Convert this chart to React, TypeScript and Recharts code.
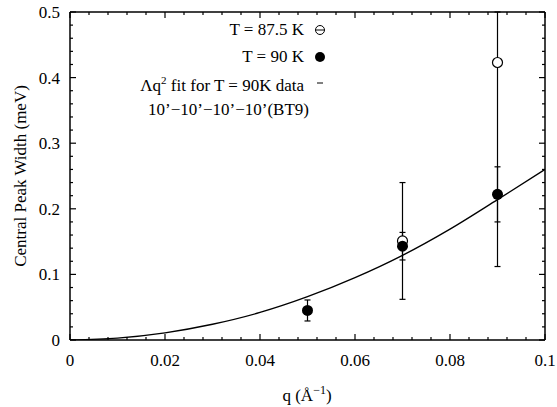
import { ComposedChart, ErrorBar, Line, Scatter, XAxis, YAxis } from "recharts";

// T = 87.5 K (open circles); last bar runs off the top of the frame
const q875 = [0.07, 0.09];
const width875 = [0.151, 0.423];
const err875 = [[0.089, 0.089], [0.311, 0.077]];

// T = 90 K (filled circles)
const q90 = [0.05, 0.07, 0.09];
const width90 = [0.045, 0.143, 0.222];
const err90 = [0.016, 0.021, 0.042];

// Aq^2 fit curve
const fitQ = [0, 0.01, 0.02, 0.03, 0.04, 0.05, 0.06, 0.07, 0.08, 0.09, 0.1];
const fitWidth = [0, 0.003, 0.011, 0.024, 0.042, 0.066, 0.095, 0.129, 0.169, 0.214, 0.26];

const xTicks = Array.from({ length: 26 }, (_, i) => Number((i * 0.004).toFixed(3)));
const yTicks = Array.from({ length: 26 }, (_, i) => Number((i * 0.02).toFixed(2)));
const xLabels = ["0", "0.02", "0.04", "0.06", "0.08", "0.1"];
const yLabels = ["0", "0.1", "0.2", "0.3", "0.4", "0.5"];

const open = q875.map((q, i) => ({ q, w: width875[i], err: err875[i] }));
const filled = q90.map((q, i) => ({ q, w: width90[i], err: err90[i] }));
const fit = fitQ.map((q, i) => ({ q, w: fitWidth[i] }));

const FONT = "'Liberation Serif', 'Times New Roman', serif";

const isMajor = (v: number, step: number) => Math.round(v / step) % 5 === 0;

const BottomTick = (p: any) => {
	const k = Math.round(p.payload.value / 0.004);
	const len = k % 5 === 0 ? 6 : 3;
	return (
		<g>
			<line x1={p.x} x2={p.x} y1={p.y} y2={p.y - len} stroke="#000" strokeWidth={1.2} />
			<text x={p.x} y={p.y + 26} textAnchor="middle" fontSize={17} fontFamily={FONT} fill="#000">
				{k % 5 === 0 ? xLabels[k / 5] : ""}
			</text>
		</g>
	);
};
const TopTick = (p: any) => (
	<line x1={p.x} x2={p.x} y1={p.y} y2={p.y + (isMajor(p.payload.value, 0.004) ? 6 : 3)} stroke="#000" strokeWidth={1.2} />
);
const LeftTick = (p: any) => {
	const k = Math.round(p.payload.value / 0.02);
	const len = k % 5 === 0 ? 6 : 3;
	return (
		<g>
			<line x1={p.x} x2={p.x + len} y1={p.y} y2={p.y} stroke="#000" strokeWidth={1.2} />
			<text x={p.x - 10} y={p.y + 6} textAnchor="end" fontSize={17} fontFamily={FONT} fill="#000">
				{k % 5 === 0 ? yLabels[k / 5] : ""}
			</text>
		</g>
	);
};
const RightTick = (p: any) => (
	<line x1={p.x} x2={p.x - (isMajor(p.payload.value, 0.02) ? 6 : 3)} y1={p.y} y2={p.y} stroke="#000" strokeWidth={1.2} />
);

const OpenDot = (p: any) => <circle cx={p.cx} cy={p.cy} r={5} fill="#fff" stroke="#000" strokeWidth={1.2} />;
const FilledDot = (p: any) => <circle cx={p.cx} cy={p.cy} r={5.5} fill="#000" />;

const row = (top: number, right = 0): any => ({
	position: "absolute",
	top,
	right,
	whiteSpace: "nowrap",
	display: "flex",
	alignItems: "center",
});

const Overlay = () => (
	<div style={{ position: "absolute", left: 0, top: 0, width: 557, height: 407, fontFamily: FONT, fontSize: 17, color: "#000", pointerEvents: "none" }}>
		<div style={{ position: "absolute", left: 0, top: 0, width: 330, height: 130 }}>
			<div style={row(20)}>
				<span>T = 87.5 K</span>
				<svg width={26} height={14}>
					<circle cx={16} cy={7} r={4.5} fill="none" stroke="#000" />
					<line x1={11.5} x2={20.5} y1={7} y2={7} stroke="#000" />
				</svg>
			</div>
			<div style={row(47)}>
				<span>T = 90 K</span>
				<svg width={26} height={14}>
					<circle cx={16} cy={7} r={5} fill="#000" />
				</svg>
			</div>
			<div style={row(74)}>
				<span>
					Λq<sup style={{ fontSize: 11 }}>2</sup> fit for T = 90K data
				</span>
				<svg width={26} height={14}>
					<line x1={13} x2={19} y1={5} y2={5} stroke="#000" />
				</svg>
			</div>
			<div style={row(100, 21)}>
				<span>10’−10’−10’−10’(BT9)</span>
			</div>
		</div>
		<div style={{ position: "absolute", left: 307, top: 380, transform: "translateX(-50%)", whiteSpace: "nowrap", lineHeight: "20px" }}>
			q (Å<sup style={{ fontSize: 12 }}>−1</sup>)
		</div>
		<div style={{ position: "absolute", left: 21, top: 176, transform: "translate(-50%, -50%) rotate(-90deg)", whiteSpace: "nowrap", lineHeight: "20px" }}>
			Central Peak Width (meV)
		</div>
	</div>
);

const App = () => (
	<div style={{ position: "absolute", left: 0, top: 0 }}>
		<ComposedChart width={557} height={407} margin={{ top: 0, right: 0, bottom: 0, left: 0 }}>
			<XAxis xAxisId="bottom" dataKey="q" type="number" domain={[0, 0.1]} ticks={xTicks} interval={0} allowDataOverflow height={67} tickSize={0} tickMargin={0} tick={BottomTick} axisLine={{ stroke: "#000", strokeWidth: 1.5 }} />
			<XAxis xAxisId="top" dataKey="q" type="number" orientation="top" domain={[0, 0.1]} ticks={xTicks} interval={0} allowDataOverflow height={12} tickSize={0} tickMargin={0} tick={TopTick} axisLine={{ stroke: "#000", strokeWidth: 1.5 }} />
			<YAxis yAxisId="left" type="number" domain={[0, 0.5]} ticks={yTicks} interval={0} allowDataOverflow width={70} tickSize={0} tickMargin={0} tick={LeftTick} axisLine={{ stroke: "#000", strokeWidth: 1.5 }} />
			<YAxis yAxisId="right" type="number" orientation="right" domain={[0, 0.5]} ticks={yTicks} interval={0} allowDataOverflow width={12} tickSize={0} tickMargin={0} tick={RightTick} axisLine={{ stroke: "#000", strokeWidth: 1.5 }} />
			{/* fit curve sits on the top/right axes so they get a scale and ticks */}
			<Line xAxisId="top" yAxisId="right" data={fit} dataKey="w" type="monotone" stroke="#000" strokeWidth={1.3} dot={false} isAnimationActive={false} />
			<Scatter xAxisId="bottom" yAxisId="left" data={open} dataKey="w" shape={OpenDot} isAnimationActive={false}>
				<ErrorBar dataKey="err" direction="y" width={3} stroke="#000" strokeWidth={1.2} />
			</Scatter>
			<Scatter xAxisId="bottom" yAxisId="left" data={filled} dataKey="w" shape={FilledDot} isAnimationActive={false}>
				<ErrorBar dataKey="err" direction="y" width={3} stroke="#000" strokeWidth={1.2} />
			</Scatter>
		</ComposedChart>
		<Overlay />
	</div>
);

export default App;
